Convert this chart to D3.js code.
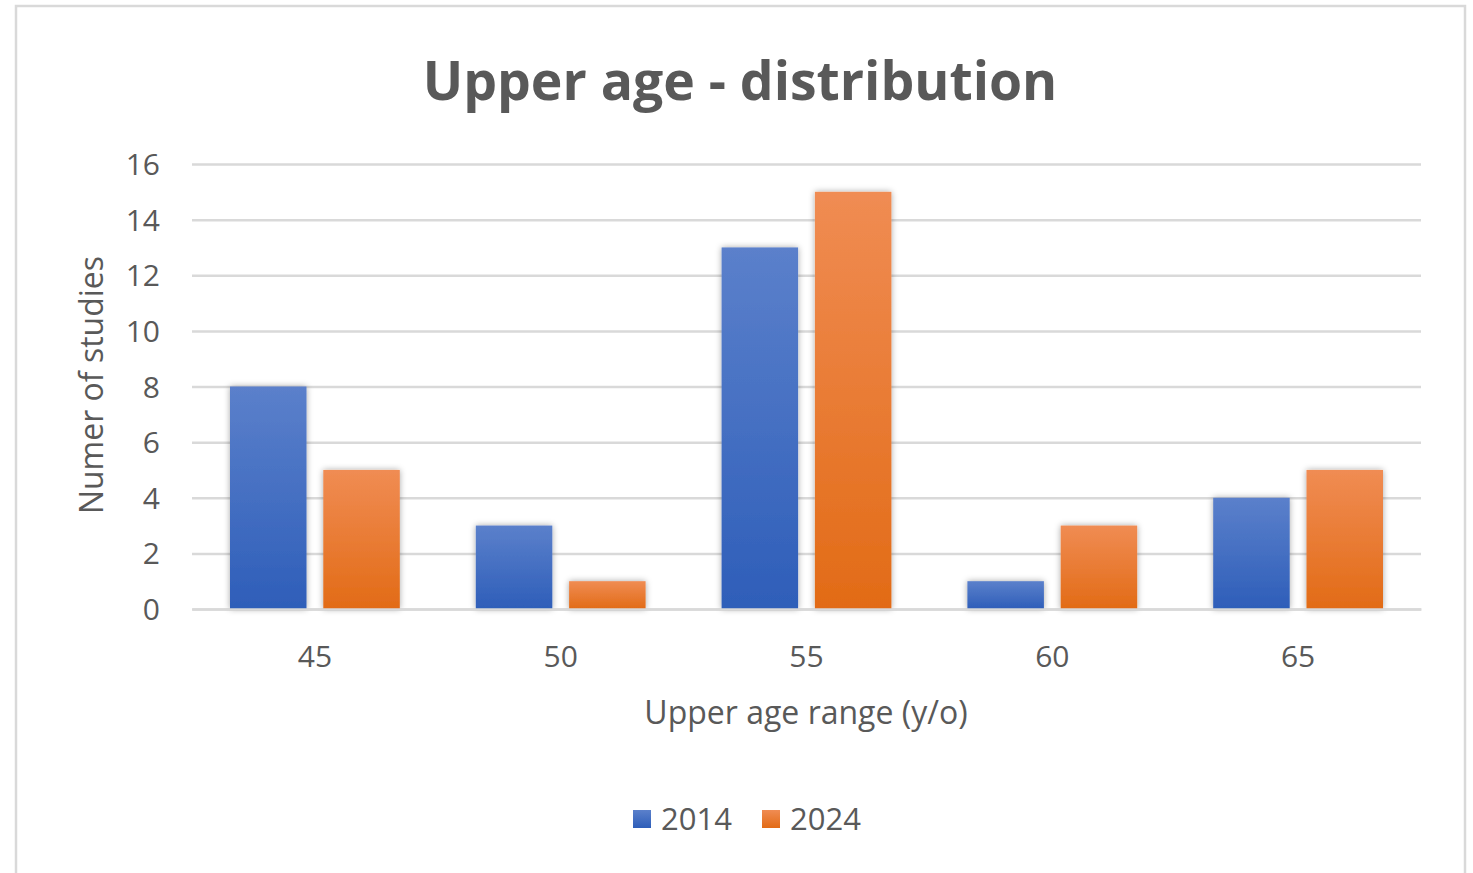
<!DOCTYPE html>
<html><head><meta charset="utf-8">
<script src="https://cdn.jsdelivr.net/npm/d3@7"></script>
<style>body{margin:0;background:#fff}svg{display:block}</style>
</head><body>
<script>
const categories = ["45", "50", "55", "60", "65"];
const seriesNames = ["2014", "2024"];
const values2014 = [8, 3, 13, 1, 4];
const values2024 = [5, 1, 15, 3, 5];
const yTicks = [0, 2, 4, 6, 8, 10, 12, 14, 16];
const titleText = "Upper age - distribution";
const xTitle = "Upper age range (y/o)";
const yTitle = "Numer of studies";

(function () {
const W = 1473, H = 873;
const svg = d3.select("body").append("svg").attr("width", W).attr("height", H);
const font = "'Open Sans', 'Noto Sans', sans-serif";
const textCol = "#595959";

// frame
svg.append("rect").attr("x", 16).attr("y", 6).attr("width", 1449).attr("height", 880)
  .attr("fill", "#fff").attr("stroke", "#d9d9d9").attr("stroke-width", 2.5);

const defs = svg.append("defs");
const grads = [["g2014", "#5b80cb", "#2e5eb9"], ["g2024", "#f08c53", "#e26b16"]];
grads.forEach(([id, c1, c2]) => {
  const g = defs.append("linearGradient").attr("id", id).attr("x1", 0).attr("y1", 0).attr("x2", 0).attr("y2", 1);
  g.append("stop").attr("offset", "0%").attr("stop-color", c1);
  g.append("stop").attr("offset", "100%").attr("stop-color", c2);
});
const f = defs.append("filter").attr("id", "sh").attr("x", "-30%").attr("y", "-30%").attr("width", "160%").attr("height", "160%");
f.append("feDropShadow").attr("dx", 0).attr("dy", 0).attr("stdDeviation", 3).attr("flood-color", "#000").attr("flood-opacity", 0.35);

const pl = 192, pr = 1421, pt = 164, pb = 609;
const x = d3.scaleBand().domain(categories).range([pl, pr]).paddingInner(0).paddingOuter(0);
const bw = x.bandwidth();
const sub = d3.scaleBand().domain(seriesNames).range([38, bw - 38]).paddingInner(0.18);
const y = d3.scaleLinear().domain([0, 16]).range([pb, pt]);

// gridlines
const yAxis = d3.axisLeft(y).tickValues(yTicks).tickSize(-(pr - pl)).tickPadding(32);
const gy = svg.append("g").attr("transform", `translate(${pl},0)`).call(yAxis);
gy.select(".domain").remove();
gy.selectAll(".tick line").attr("stroke", "#d9d9d9").attr("stroke-width", 2.5);
gy.selectAll(".tick text").attr("fill", textCol).attr("font-family", font).attr("font-size", 30).attr("dy", "0.35em");

// bars
const data = categories.map((c, i) => ({ c, vals: [values2014[i], values2024[i]] }));
const groups = svg.append("g").selectAll("g").data(data).join("g")
  .attr("transform", d => `translate(${x(d.c)},0)`);
groups.selectAll("rect").data(d => d.vals.map((v, j) => ({ v, s: seriesNames[j] })))
  .join("rect")
  .attr("x", d => sub(d.s)).attr("width", sub.bandwidth())
  .attr("y", d => y(d.v)).attr("height", d => y(0) - y(d.v))
  .attr("fill", d => `url(#g${d.s})`).attr("filter", "url(#sh)");

// x axis
const xAxis = d3.axisBottom(x).tickSize(0).tickPadding(37);
const gx = svg.append("g").attr("transform", `translate(0,${pb})`).call(xAxis);
gx.select(".domain").attr("stroke", "#d9d9d9").attr("stroke-width", 2.5);
gx.selectAll(".tick text").attr("fill", textCol).attr("font-family", font).attr("font-size", 30);

// titles
svg.append("text").attr("x", 740).attr("y", 100).attr("text-anchor", "middle")
  .attr("font-family", font).attr("font-weight", "bold").attr("font-size", 53.5).attr("fill", textCol).text(titleText);
svg.append("text").attr("x", 806).attr("y", 724).attr("text-anchor", "middle")
  .attr("font-family", font).attr("font-size", 32).attr("fill", textCol).text(xTitle);
svg.append("text").attr("transform", "translate(103,385) rotate(-90)").attr("text-anchor", "middle")
  .attr("font-family", font).attr("font-size", 32).attr("fill", textCol).text(yTitle);

// legend
const legX = [633, 762];
seriesNames.forEach((s, i) => {
  svg.append("rect").attr("x", legX[i]).attr("y", 810).attr("width", 18).attr("height", 18).attr("fill", `url(#g${s})`);
  svg.append("text").attr("x", legX[i] + 28).attr("y", 830).attr("font-family", font).attr("font-size", 31)
    .attr("fill", textCol).text(s);
});
})();
</script>
</body></html>
